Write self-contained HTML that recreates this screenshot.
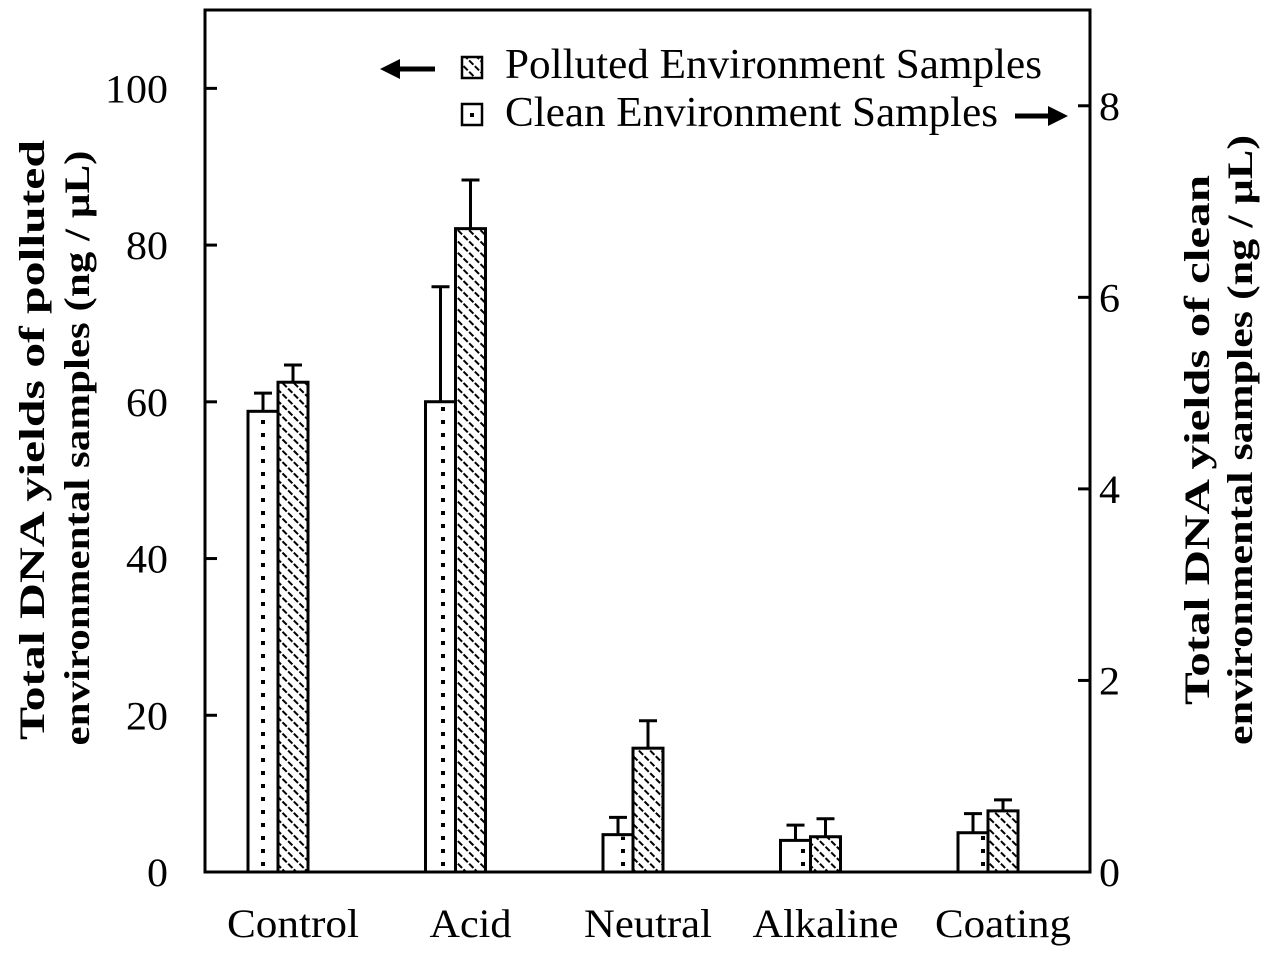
<!DOCTYPE html>
<html><head><meta charset="utf-8"><style>
html,body{margin:0;padding:0;background:#fff;}
svg text{font-family:"Liberation Serif",serif;fill:#000;}
</style></head><body>
<svg id="chart" width="1267" height="955" viewBox="0 0 1267 955">
<defs>
<pattern id="dots" patternUnits="userSpaceOnUse" width="30" height="13" x="248" y="0">
<rect x="13" y="4" width="4" height="4" fill="#000"/>
</pattern>
<pattern id="hatch" patternUnits="userSpaceOnUse" width="8" height="8" patternTransform="rotate(-45)">
<line x1="0" y1="0" x2="0" y2="8" stroke="#000" stroke-width="4" stroke-dasharray="4.5 2"/>
</pattern>
</defs>
<g id="plot"></g>
</svg>
<script>
const categories = ["Control","Acid","Neutral","Alkaline","Coating"];
const cleanValues = [4.81,4.91,0.39,0.33,0.41];
const cleanErrors = [0.19,1.20,0.18,0.16,0.20];
const pollutedValues = [62.5,82.1,15.8,4.5,7.8];
const pollutedErrors = [2.2,6.2,3.5,2.3,1.4];
const leftTicks = [0,20,40,60,80,100];
const rightTicks = [0,2,4,6,8];

const NS="http://www.w3.org/2000/svg";
const g=document.getElementById('plot');
const L=205,R=1090,T=10,B=872;
const yL=v=>B-(v/110)*(B-T);
const yR=v=>B-(v/9)*(B-T);
const xC=i=>278+177.5*i;
const BW=30;
function mk(tag,attrs,parent){const e=document.createElementNS(NS,tag);for(const k in attrs)e.setAttribute(k,attrs[k]);(parent||g).appendChild(e);return e;}

let frame=mk('rect',{x:L,y:T,width:R-L,height:B-T,fill:'none',stroke:'#000','stroke-width':3});



leftTicks.forEach(v=>{
  let t=mk('line',{x1:L,x2:L+12,y1:yL(v),y2:yL(v),stroke:'#000','stroke-width':3});
  
  
  let tx=mk('text',{x:168,y:yL(v)+14,'text-anchor':'end','font-size':40,textLength:String(v).length*21,lengthAdjust:'spacingAndGlyphs'});
  tx.textContent=v;
  
  
});
rightTicks.forEach(v=>{
  let t=mk('line',{x1:R-12,x2:R,y1:yR(v),y2:yR(v),stroke:'#000','stroke-width':3});
  
  
  let tx=mk('text',{x:1099,y:yR(v)+14,'text-anchor':'start','font-size':40,textLength:21,lengthAdjust:'spacingAndGlyphs'});
  tx.textContent=v;
  
  
});

function errBar(x,yTop,yErr,name){
  let e=mk('path',{d:`M${x},${yTop}V${yErr}M${x-9},${yErr}H${x+9}`,stroke:'#000','stroke-width':3,fill:'none'});
  
  
}
const labLen=[132,82,128,146,136];
categories.forEach((c,i)=>{
  const xc=xC(i);
  const y1=yR(cleanValues[i]);
  let b1=mk('rect',{x:xc-BW,y:y1,width:BW,height:B-y1,fill:'#fff',stroke:'#000','stroke-width':3});
  
  
  let d=mk('rect',{x:xc-BW+2,y:y1+2,width:BW-4,height:Math.max(0,B-y1-4),fill:'url(#dots)'});
  
  
  errBar(xc-BW/2,y1,yR(cleanValues[i]+cleanErrors[i]),'clean-error-bar');
  const y2=yL(pollutedValues[i]);
  let b2=mk('rect',{x:xc,y:y2,width:BW,height:B-y2,fill:'url(#hatch)',stroke:'#000','stroke-width':3});
  
  
  errBar(xc+BW/2,y2,yL(pollutedValues[i]+pollutedErrors[i]),'polluted-error-bar');
  let lab=mk('text',{x:xc+15,y:937,'text-anchor':'middle','font-size':40,textLength:labLen[i],lengthAdjust:'spacingAndGlyphs'});
  lab.textContent=c;
  
  
});

function title(tx,ty,len,txt,name){
  let t=mk('text',{transform:`translate(${tx},${ty}) rotate(-90)`,'text-anchor':'middle','font-size':36,'font-weight':'bold',textLength:len,lengthAdjust:'spacingAndGlyphs'});
  t.textContent=txt;
  
  
}
title(44,440,600,'Total  DNA  yields  of   polluted','left-axis-title-line1');
title(89,448,595,'environmental samples (ng / µL)','left-axis-title-line2');
title(1209,440,530,'Total  DNA  yields  of  clean','right-axis-title-line1');
title(1252,440,610,'environmental samples (ng / µL)','right-axis-title-line2');

function arrow(x1,x2,y,name){
  const dir=x2>x1?1:-1;
  let a=mk('path',{d:`M${x1},${y}H${x2-dir*14}`,stroke:'#000','stroke-width':5,fill:'none'});
  
  
  let h=mk('path',{d:`M${x2},${y}L${x2-dir*20},${y-10}L${x2-dir*20},${y+10}Z`,fill:'#000'});
  
  
}
arrow(435,380,69,'legend-left-arrow');
let lb1=mk('rect',{x:462,y:57,width:20,height:21,fill:'url(#hatch)',stroke:'#000','stroke-width':2.5});


let lx1=mk('text',{x:505,y:78,'font-size':42,textLength:537,lengthAdjust:'spacingAndGlyphs'});
lx1.textContent='Polluted Environment Samples';


let lb2=mk('rect',{x:462,y:104,width:20,height:21,fill:'#fff',stroke:'#000','stroke-width':2.5});


let ld=mk('rect',{x:470,y:113,width:4,height:4,fill:'#000'});


let lx2=mk('text',{x:505,y:126,'font-size':42,textLength:493,lengthAdjust:'spacingAndGlyphs'});
lx2.textContent='Clean Environment Samples';


arrow(1015,1068,116,'legend-right-arrow');
</script>
</body></html>
